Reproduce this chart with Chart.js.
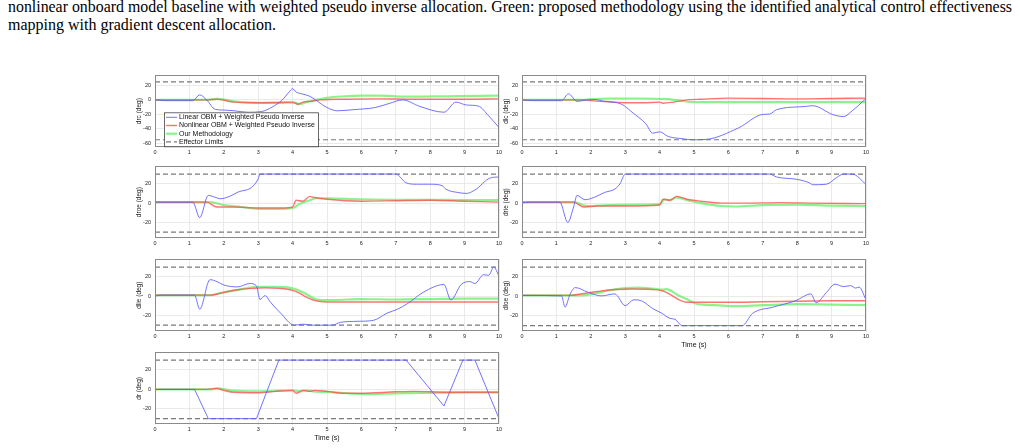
<!DOCTYPE html>
<html><head><meta charset="utf-8">
<script src="https://cdn.jsdelivr.net/npm/chart.js@4.4.0/dist/chart.umd.min.js"></script>
<style>
html,body{margin:0;padding:0;background:#fff;width:1020px;height:448px;overflow:hidden;position:relative}
.cap{position:absolute;left:8px;font-family:"Liberation Serif","Times New Roman",serif;font-size:16px;line-height:18px;color:#000;white-space:nowrap;transform-origin:0 0}
canvas{position:absolute}
</style></head><body>
<div class="cap" id="cap1" style="top:-2px">nonlinear onboard model baseline with weighted pseudo inverse allocation. Green: proposed methodology using the identified analytical control effectiveness</div>
<div class="cap" id="cap2" style="top:16px">mapping with gradient descent allocation.</div>
<script>
// ---- data (time s, deflection deg) ----
const seriesNames = ['Linear OBM + Weighted Pseudo Inverse','Nonlinear OBM + Weighted Pseudo Inverse','Our Methodology','Effector Limits'];
const timeTicks = [0,1,2,3,4,5,6,7,8,9,10];
const dcTicks = [-60,-40,-20,0,20];
const surfTicks = [-20,0,20];
const dcLimits = [25,-55];
const surfLimits = [30,-30];
const timeLabel = 'Time (s)';

const drcLin = [[0,0],[0.3,-1],[1.1,-1],[1.3,7],[1.5,0],[1.75,-13],[2.0,-14],[2.3,-15],[2.7,-17],[3.1,-16],[3.4,-10],[3.7,0],[3.9,11],[4.0,15.5],[4.1,11],[4.3,8],[4.5,5],[5.0,-10.5],[5.3,-15],[5.75,-13.5],[6.4,-10.5],[6.8,-5],[7.2,0],[7.7,-9],[8.4,-17],[8.75,-3],[9.05,-7],[9.4,-8.5],[9.7,-22],[10,-38]];
const drcNon = [[0,0],[1.5,0],[1.8,1],[2.3,-3],[3.0,-4],[3.5,-4],[4.0,-3],[4.15,-6],[4.3,-3],[4.5,-2],[4.8,0],[5.5,1],[6.5,1.5],[7.5,1],[9,1],[10,1.5]];
const drcOur = [[0,0],[1.5,0],[1.8,1.5],[2.3,-2],[3.0,-4],[3.8,-3.5],[4.1,-4],[4.2,-6],[4.4,-3],[4.6,-1],[5.0,3],[5.5,5],[6.0,6],[6.5,6],[7.0,5],[7.5,4.5],[8.5,5],[9.5,5.5],[10,6]];

const dlcLin = [[0,0],[0.3,-1],[1.15,-1],[1.35,8.5],[1.6,-2],[1.9,0],[2.1,0.5],[2.4,-2],[2.9,-6],[3.2,-17],[3.6,-33],[3.8,-46],[4.0,-44],[4.25,-50.5],[4.65,-53.5],[4.95,-55],[5.35,-54.5],[6.3,-38.5],[7.0,-20],[7.2,-19.5],[7.4,-13.5],[8.25,-9],[8.45,-8],[9.05,-20.5],[9.35,-23],[9.6,-15],[10,2]];
const dlcNon = [[0,0],[1.8,0],[2.0,-1],[2.7,-3],[3.0,-4],[3.5,-4],[4.0,-3],[4.1,-4.5],[4.4,-3],[4.8,0],[5.2,1],[6.0,2.5],[7,2],[8,1.5],[9,2],[10,2.5]];
const dlcOur = [[0,0],[1.7,0],[2.0,1],[2.5,2],[3.5,2],[4.2,1],[4.6,-1],[5.0,-3],[6,-3],[8,-3],[10,-3]];

const droeLin = [[0,1],[1.1,1],[1.3,-15],[1.55,8],[1.75,6],[1.9,4.5],[2.2,7.5],[2.45,12],[2.65,13.5],[2.8,16],[3.0,25],[3.05,30],[7.0,30],[7.3,21],[7.6,19.5],[8.0,19.5],[8.35,18],[8.45,14.5],[8.8,11],[9.05,10],[9.3,13.5],[9.75,26],[10,27]];
const droeNon = [[0,1],[1.5,1],[1.8,-4],[2.3,-4],[3.0,-5],[3.7,-5],[4.0,-4],[4.1,3],[4.3,2],[4.5,7],[4.6,6],[5.0,4],[6,2],[7,2.5],[8,3],[9,2],[10,1]];
const droeOur = [[0,1],[1.6,1],[2.0,-2],[2.5,-4],[3.0,-6],[3.5,-6],[4.0,-5],[4.2,-1],[4.5,3],[4.7,5],[5.0,5],[6,4],[7,3.5],[8,3.5],[9,3],[10,3]];

const drieLin = [[0,0],[0.2,1],[1.1,1],[1.33,-20],[1.5,-4],[1.6,8],[1.83,3.5],[2.1,6],[2.4,11],[2.7,14.5],[2.85,20],[3.0,30],[7.2,30],[7.4,27],[8.0,24.5],[8.35,21],[8.45,19],[8.85,19.5],[9.15,26.5],[9.35,30],[9.6,30],[10,19.5]];
const drieNon = [[0,1],[1.5,1],[1.8,-4],[2.2,-3],[3.0,-3],[4.0,-2],[4.1,4],[4.3,3],[4.5,7],[4.8,4],[5.2,2],[5.8,0],[6.5,0],[7.5,0.5],[8.5,0],[10,-0.5]];
const drieOur = [[0,1],[1.5,1],[1.9,-3],[2.5,-2],[3.5,-1.5],[4.0,-1],[4.15,4],[4.3,3],[4.5,6],[4.8,3],[5.2,0],[5.8,-3],[6.2,-3.5],[7,-2],[8,-1.5],[9,-2.5],[10,-3]];

const dlieLin = [[0,0],[0.2,1],[1.15,1],[1.3,-13.5],[1.6,17],[1.8,15],[2.0,11.5],[2.4,9.5],[2.75,13],[2.95,10.5],[3.05,-3.5],[3.2,0.5],[3.35,-6],[3.65,-17.5],[4.05,-30],[4.3,-29],[4.6,-30],[5.15,-30],[5.4,-27],[5.9,-26],[6.35,-25],[6.75,-17.5],[7.05,-13.5],[7.35,-7.5],[7.8,4],[8.4,12],[8.6,-4],[8.9,12],[9.15,15],[9.3,13],[9.55,22],[9.7,21.5],[9.85,30],[10,20.5]];
const dlieNon = [[0,1],[1.6,1],[1.9,3],[2.3,6],[2.8,8],[3.2,8.5],[3.6,8],[4.0,6],[4.2,3],[4.4,-1],[4.6,-4],[4.8,-5.5],[5.0,-6],[7,-6],[8.5,-6],[10,-6]];
const dlieOur = [[0,1],[1.6,1],[2.0,4],[2.5,7],[3.0,9.5],[3.5,9.5],[4.0,8],[4.3,4],[4.6,-2],[4.8,-4],[5.2,-4],[6,-3],[7,-3.5],[8,-3],[9,-2.5],[10,-2.5]];

const dloeLin = [[0,1],[1.15,0.5],[1.25,-11],[1.4,2.5],[1.55,9],[1.9,4.5],[2.3,0.5],[2.7,2.5],[3.0,-9.5],[3.25,-3.5],[3.5,-5],[3.8,-12.5],[4.05,-17],[4.3,-22.5],[4.45,-23.5],[4.65,-30],[6.4,-30],[6.7,-17.5],[7.3,-11],[7.95,-4.5],[8.4,2.5],[8.55,-6.5],[8.85,4],[9.1,12.5],[9.35,10],[9.55,11],[9.7,8.5],[9.8,9.5],[10,-3.5]];
const dloeNon = [[0,1],[1.4,1],[1.8,3],[2.2,5],[2.7,7],[3.2,7.5],[3.8,7],[4.1,5.5],[4.3,2],[4.6,-4],[4.8,-6],[6,-6],[7,-5.5],[8,-5],[9,-4.5],[10,-4.5]];
const dloeOur = [[0,1],[1.7,1],[2.0,2],[2.5,6],[3.0,8.5],[3.4,9],[3.8,8],[4.1,7],[4.2,7.5],[4.5,2],[4.8,-3],[5.1,-8],[5.6,-9],[6.2,-10],[7,-9],[8,-8],[9,-8.5],[10,-9]];

const drLin = [[0,0],[1.15,0],[1.55,-30],[2.95,-30],[3.6,30],[7.3,30],[8.4,-17],[8.95,30],[9.3,30],[10,-30]];
const drNon = [[0,0],[1.5,0],[1.8,1],[2.0,-1],[2.3,-3],[3.0,-3.5],[3.5,-2],[4.0,-1],[4.1,-4],[4.3,-1],[4.5,-2],[4.65,-1],[5.0,-2],[5.5,-4],[6.0,-4],[7.0,-2.5],[7.5,-2],[8.5,-3],[10,-3]];
const drOur = [[0,0],[1.6,0],[1.8,1],[2.2,-1],[3.0,-2],[3.5,-1.5],[4.0,-1],[4.2,-2],[4.4,-1],[4.6,-2],[5.2,-3],[5.8,-4.5],[6.2,-5],[7,-4],[8,-3.5],[9,-3],[10,-3]];

// ---- caption fitting ----
(function(){
  const c=document.getElementById('cap1');
  const w=c.getBoundingClientRect().width;
  if (w>1004) { c.style.transform='scaleX('+(1004/w)+')'; }
  else { const n=(c.textContent.match(/ /g)||[]).length; c.style.wordSpacing=((1004-w)/n)+'px'; }
})();

Chart.defaults.font.family = '"Liberation Sans", Arial, Helvetica, sans-serif';

const framePlugin = {
  id:'frame',
  afterDraw(chart, args, opts){
    const ctx=chart.ctx, ca=chart.chartArea;
    ctx.save();
    ctx.strokeStyle='#8a8a8a'; ctx.lineWidth=1;
    ctx.strokeRect(Math.round(ca.left)+0.5, Math.round(ca.top)+0.5, Math.round(ca.right-ca.left)-1, Math.round(ca.bottom-ca.top)-1);
    if (opts.legend){
      const x0=ca.left+9, y0=ca.top+37, w=154, h=34;
      ctx.fillStyle='#fff'; ctx.fillRect(x0,y0,w,h);
      ctx.strokeStyle='#444'; ctx.lineWidth=0.8; ctx.strokeRect(x0+0.5,y0+0.5,w,h);
      ctx.font='7px "Liberation Sans", Arial, sans-serif';
      ctx.textBaseline='middle'; ctx.fillStyle='#111';
      const ds=chart.data.datasets;
      for(let i=0;i<4;i++){
        const yy=y0+5+i*8.2;
        ctx.save();
        ctx.strokeStyle=ds[i].borderColor; ctx.lineWidth=ds[i].borderWidth;
        if(ds[i].borderDash) ctx.setLineDash(ds[i].borderDash);
        ctx.beginPath(); ctx.moveTo(x0+2,yy); ctx.lineTo(x0+13,yy); ctx.stroke();
        ctx.restore();
        ctx.fillText(ds[i].label, x0+15, yy);
      }
    }
    ctx.restore();
  }
};

function makePanel(p){
  const W=344, H=73, yW=20, padT=6, padR=8, xH=p.time?17.5:10;
  const cv=document.createElement('canvas');
  cv.width=yW+W+padR; cv.height=Math.ceil(padT+H+xH);
  cv.style.left=(p.left-yW)+'px'; cv.style.top=(p.top-padT)+'px';
  document.body.appendChild(cv);
  const pts=a=>a.map(d=>({x:d[0],y:d[1]}));
  const lim=v=>[{x:0,y:v},{x:10,y:v}];
  const blue={label:seriesNames[0],data:pts(p.lin),borderColor:'rgba(90,90,255,0.85)',borderWidth:1};
  if (p.linearBlue) blue.tension=0; else blue.cubicInterpolationMode='monotone';
  new Chart(cv,{
    type:'line',
    data:{datasets:[
      blue,
      {label:seriesNames[1],data:pts(p.non),borderColor:'rgba(255,80,80,0.8)',borderWidth:1.4,cubicInterpolationMode:'monotone'},
      {label:seriesNames[2],data:pts(p.our),borderColor:'rgba(110,240,110,0.8)',borderWidth:2.2,cubicInterpolationMode:'monotone'},
      {label:seriesNames[3],data:lim(p.lim[0]),borderColor:'#7a7a7a',borderWidth:1.2,borderDash:[5,3]},
      {label:'',data:lim(p.lim[1]),borderColor:'#7a7a7a',borderWidth:1.2,borderDash:[5,3]}
    ]},
    options:{
      responsive:false, animation:false, devicePixelRatio:1,
      layout:{padding:{left:0,top:padT,right:padR,bottom:0}},
      elements:{point:{radius:0}},
      plugins:{legend:{display:false},tooltip:{enabled:false},frame:{legend:!!p.legend}},
      scales:{
        x:{type:'linear',min:0,max:10,
          afterBuildTicks:s=>{s.ticks=timeTicks.map(v=>({value:v}));},
          afterFit:s=>{s.height=xH;},
          grid:{color:'#e4e4e4',drawTicks:false,lineWidth:0.8},
          border:{display:false},
          ticks:{font:{size:5.5},color:'#222',padding:2,maxRotation:0,autoSkip:false},
          title:{display:!!p.time,text:timeLabel,font:{size:7},color:'#111',padding:{top:0,bottom:0}}
        },
        y:{type:'linear',min:p.ymin,max:p.ymax,
          afterBuildTicks:s=>{s.ticks=p.yt.map(v=>({value:v}));},
          afterFit:s=>{s.width=yW;},
          grid:{color:'#e4e4e4',drawTicks:false,lineWidth:0.8},
          border:{display:false},
          ticks:{font:{size:5.5},color:'#222',padding:4},
          title:{display:true,text:p.title,font:{size:6.5},color:'#111',padding:{top:0,bottom:0}}
        }
      }
    },
    plugins:[framePlugin]
  });
}

const L=155, R=522;
makePanel({title:'drc (deg)', lin:drcLin, non:drcNon, our:drcOur, lim:dcLimits, ymin:-65, ymax:34, yt:dcTicks, left:L, top:74, legend:true});
makePanel({title:'dlc (deg)', lin:dlcLin, non:dlcNon, our:dlcOur, lim:dcLimits, ymin:-65, ymax:34, yt:dcTicks, left:R, top:74});
makePanel({title:'droe (deg)', lin:droeLin, non:droeNon, our:droeOur, lim:surfLimits, ymin:-36, ymax:38, yt:surfTicks, left:L, top:165});
makePanel({title:'drie (deg)', lin:drieLin, non:drieNon, our:drieOur, lim:surfLimits, ymin:-36, ymax:38, yt:surfTicks, left:R, top:165});
makePanel({title:'dlie (deg)', lin:dlieLin, non:dlieNon, our:dlieOur, lim:surfLimits, ymin:-36, ymax:38, yt:surfTicks, left:L, top:258});
makePanel({title:'dloe (deg)', lin:dloeLin, non:dloeNon, our:dloeOur, lim:surfLimits, ymin:-36, ymax:38, yt:surfTicks, left:R, top:258, time:true});
makePanel({title:'dr (deg)', lin:drLin, non:drNon, our:drOur, lim:surfLimits, ymin:-36, ymax:38, yt:surfTicks, left:L, top:351, time:true, linearBlue:true});
</script>
</body></html>
